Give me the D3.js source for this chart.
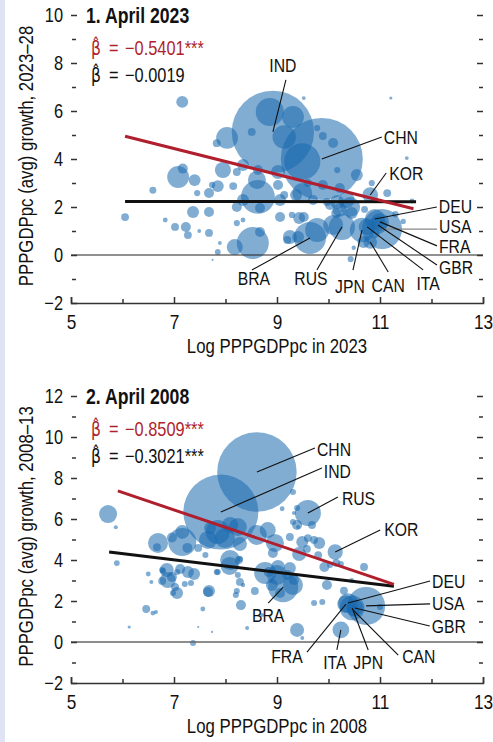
<!DOCTYPE html>
<html><head><meta charset="utf-8">
<script src="https://cdn.jsdelivr.net/npm/d3@7"></script>
<style>
html,body{margin:0;padding:0;background:#fff;}
svg text{font-family:"Liberation Sans",Arial,sans-serif;fill:#111;}
</style></head><body>
<svg id="c" width="493" height="742"></svg>
<script>
// ---------------- DATA ----------------
const xTickValues = [5,7,9,11,13];
const xMinorValues = [6,8,10,12];
const yTicks2023 = [-2,0,2,4,6,8,10];
const yTicks2008 = [-2,0,2,4,6,8,10,12];

// labelled economies, April 2023 (log PPP GDP pc, avg growth 2023-28, population mn)
const codes2023 = ["IND","CHN","KOR","DEU","USA","FRA","GBR","ITA","CAN","JPN","RUS","BRA"];
const x2023 = [8.92,9.87,10.81,10.90,11.04,11.00,10.96,10.75,10.81,10.65,10.26,9.64];
const y2023 = [5.13,4.00,2.50,1.50,1.08,1.38,1.25,1.17,0.54,1.04,1.17,0.71];
const pop2023 = [1420,1410,52,84,335,68,68,59,39,125,144,216];
// other economies [log PPPGDPpc, growth, population]
const others2023 = [
[9.49,3.9,275],[8.86,5.96,165],[9.31,5.75,100],[9.14,4.92,115],[8.03,4.88,100],[7.16,6.38,30],
[8.51,5.13,13],[7.83,4.66,13],[7.17,3.6,21],[7.08,3.25,100],[7.40,3.12,30],[6.59,2.7,10],
[7.45,2.58,8],[7.74,2.92,8],[7.85,2.87,30],[7.68,2.58,21],[8.15,2.87,13],[7.95,3.54,54],
[8.22,3.46,13],[8.34,3.75,30],[8.61,3.13,68],[8.63,3.54,21],[8.63,2.42,240],[8.34,2.29,30],
[8.67,1.96,21],[8.22,2.0,21],[9.06,2.29,30],[9.02,3.46,41],[6.05,1.58,13],[6.83,1.46,5],
[7.02,1.17,13],[7.23,1.17,21],[7.27,0.83,13],[7.37,1.79,30],[7.68,1.79,21],[7.49,1.0,3],
[7.68,0.92,13],[7.89,0.5,3],[7.85,0.13,7],[8.22,1.33,8],[8.34,1.46,5],[8.53,0.5,215],
[8.67,0.96,21],[8.18,0.33,54],[9.06,1.58,21],[9.29,1.67,8],[9.25,0.75,41],[7.75,-0.2,1],
[10.22,2.79,21],[10.55,3.33,30],[10.84,3.0,8],[11.14,2.58,13],[9.49,2.58,84],[9.70,2.29,21],
[10.03,2.08,21],[10.42,2.0,84],[10.22,1.88,41],[9.52,1.58,21],[9.02,2.92,21],[9.14,2.5,13],
[9.37,2.5,30],[9.60,3.0,13],[9.89,2.92,21],[9.97,2.21,13],[10.17,2.21,41],[10.35,2.29,54],
[10.45,1.75,30],[10.15,1.75,21],[9.43,1.54,30],[9.41,0.75,30],[9.20,0.63,13],[9.78,1.04,121],
[10.09,1.25,84],[10.49,0.3,4],[10.43,-0.17,8],[10.68,0.54,30],[11.52,4.04,3],[11.21,6.54,2],
[9.52,6.54,3],[9.78,5.29,8],[9.89,4.96,13],[10.09,4.67,21],[10.17,3.54,8],
[11.62,2.25,5],[10.7,1.9,10],[11.3,1.7,8],[11.45,1.4,6],[10.9,0.9,20]
];
const redFit2023 = [[6.05,4.95],[11.65,1.93]];
const blackFit2023 = [[6.05,2.23],[11.70,2.22]];
const betaRed2023 = "\u22120.5401***";
const betaBlack2023 = "\u22120.0019";

// labelled economies, April 2008 (growth 2008-13)
const codes2008 = ["CHN","IND","RUS","KOR","BRA","DEU","USA","GBR","CAN","JPN","ITA","FRA"];
const x2008 = [8.61,7.91,9.60,10.13,9.12,10.38,10.73,10.51,10.48,10.46,10.24,10.34];
const y2008 = [8.29,6.34,6.29,4.39,2.68,1.90,1.76,1.66,1.56,1.66,0.59,1.85];
const pop2008 = [1325,1180,142,49,191,82,304,61,33,128,59,64];
const others2008 = [
[5.72,6.24,68],[5.87,5.6,3.4],[5.89,3.85,7],[6.13,0.73,2],[6.50,3.32,5],[6.56,2.93,3.4],
[6.46,1.61,13],[6.59,1.41,5],[6.65,1.46,3.4],[6.79,3.46,7.6],[6.88,3.02,54],[6.77,2.98,13],
[7.02,2.68,13],[7.06,2.39,30],[6.98,2.39,7.6],[7.12,3.56,21],[7.39,3.32,30],[7.33,2.88,7.6],
[7.66,2.44,21],[7.56,1.61,5],[7.47,0.73,1],[7.74,0.49,1],[7.37,-0.05,7.6],[7.83,3.41,7.6],
[8.08,3.71,68],[8.26,4.0,13],[8.20,2.29,7.6],[8.3,1.8,21],[8.34,2.78,4],[6.69,4.83,84],
[6.67,4.63,13],[6.96,5.1,21],[7.16,5.37,41],[7.26,4.59,21],[7.16,4.88,165],[7.47,4.59,13],
[7.61,4.24,7.6],[7.66,4.98,68],[7.85,5.37,121],[7.70,5.56,30],[7.99,5.07,84],[8.09,5.71,54],
[8.28,4.78,41],[8.24,5.61,68],[8.09,4.0,84],[8.28,4.05,7.6],[8.61,5.22,84],[8.82,5.46,54],
[8.96,4.83,68],[8.92,4.34,21],[9.31,7.32,7.6],[9.33,6.29,3.4],[9.31,5.85,7.6],[9.41,5.61,3.4],
[9.25,5.12,13],[9.39,6.54,7.6],[6.86,3.51,41],[6.77,3.51,7.6],[6.96,3.17,21],[7.06,3.41,7.6],
[7.27,3.41,30],[7.21,2.83,7.6],[7.68,2.49,30],[7.85,3.41,7.6],[8.22,2.49,7.6],[8.24,3.27,7.6],
[8.28,2.93,13],[8.57,2.49,13],[8.77,3.37,102],[8.90,2.78,30],[9.31,2.78,84],[9.02,3.66,41],
[9.25,3.61,30],[9.82,4.83,30],[9.72,4.98,13],[9.39,5.71,21],[9.68,5.71,13],[9.60,5.07,13],
[9.49,4.88,30],[9.58,4.54,13],[9.43,4.29,41],[9.80,4.24,13],[9.92,3.66,21],[10.15,3.86,13],
[10.03,3.76,7.6],[10.24,3.8,7.6],[9.20,3.27,21],[9.0,3.27,84],[8.84,3.41,21],[9.33,3.02,21],
[9.06,2.39,21],[9.72,1.9,7.6],[9.97,2.78,21],[9.88,1.95,7.6],[9.39,0.59,41],[9.49,0.2,3.4],
[8.71,1.32,3.4],[8.42,0.68,3.4],[10.69,3.66,13],[11.0,1.71,7.6],[9.1,6.5,5],[10.45,3.0,5],[10.3,2.5,13]
];
const redFit2008 = [[5.91,7.37],[11.27,2.81]];
const blackFit2008 = [[5.74,4.39],[11.27,2.72]];
const betaRed2008 = "\u22120.8509***";
const betaBlack2008 = "\u22120.3021***";

// ---------------- LAYOUT (pixel offsets of leader end / label from bubble) ----------------
const layout2023 = {
  IND:{lx:13,ly:-52,tx:10,ty:-60,a:"middle"}, CHN:{lx:60,ly:-22,tx:62,ty:-15,a:"start"},
  KOR:{lx:16,ly:-22,tx:19,ty:-15,a:"start"}, DEU:{lx:62,ly:-12,tx:64,ty:-6,a:"start"},
  USA:{lx:55,ly:0,tx:57,ty:4,a:"start",c:"#888"}, FRA:{lx:57,ly:24,tx:59,ty:31.5,a:"start"},
  GBR:{lx:59,ly:40,tx:61,ty:49,a:"start"}, ITA:{lx:56,ly:43,tx:61,ty:63,a:"middle"},
  CAN:{lx:18,ly:30,tx:18,ty:50,a:"middle"}, JPN:{lx:-9,ly:40,tx:-12,ty:63,a:"middle"},
  RUS:{lx:-25,ly:43,tx:-31,ty:58,a:"middle"}, BRA:{lx:-58,ly:32,tx:-56,ty:47,a:"middle"}
};
const layout2008 = {
  CHN:{lx:58,ly:-24,tx:60,ty:-16,a:"start"}, IND:{lx:101,ly:-44,tx:103,ty:-34,a:"start"},
  RUS:{lx:30,ly:-16,tx:34,ty:-8,a:"start"}, KOR:{lx:45,ly:-22,tx:49,ty:-16,a:"start"},
  BRA:{lx:-15,ly:16,tx:-15,ty:35,a:"middle"}, DEU:{lx:82,ly:-22,tx:84,ty:-15,a:"start"},
  USA:{lx:64,ly:-2,tx:66,ty:4,a:"start"}, GBR:{lx:75,ly:18,tx:77,ty:25,a:"start"},
  CAN:{lx:45,ly:45,tx:49,ty:53,a:"start"}, JPN:{lx:16,ly:42,tx:16,ty:61,a:"middle"},
  ITA:{lx:-4,ly:20,tx:-6,ty:39,a:"middle"}, FRA:{lx:-39,ly:48,tx:-59,ty:59,a:"middle"}
};

const RED = "#b01f2d", BUB = "#1a6aae", NARROW = 0.82;
const svg = d3.select("#c");
svg.append("rect").attr("x",0).attr("y",0).attr("width",5).attr("height",742).attr("fill","#dfe3f3");

const fmt = v => v < 0 ? "\u2212" + Math.abs(v) : String(v);

// horizontally condense text about its own x (Arial Narrow look)
function narrow(sel){
  sel.each(function(){
    const t = d3.select(this);
    const x = +t.attr("x") || 0;
    const prev = t.attr("transform") || "";
    t.attr("transform", `${prev} translate(${x},0) scale(${NARROW},1) translate(${-x},0)`);
  });
}

function drawPanel(cfg){
  const g = svg.append("g");
  const x = d3.scaleLinear().domain([5,13]).range([71,483]);
  const y = d3.scaleLinear().domain(cfg.yDomain).range([cfg.bottom, cfg.top]);
  const r = d3.scaleSqrt().domain([0,1410]).range([0,41]);

  const pts = cfg.others.map(d => ({x:d[0], y:d[1], pop:d[2]}))
    .concat(cfg.codes.map((c,i) => ({code:c, x:cfg.xs[i], y:cfg.ys[i], pop:cfg.pops[i]})))
    .sort((a,b) => b.pop - a.pop);

  g.append("g").selectAll("circle").data(pts).join("circle")
    .attr("cx", d => x(d.x)).attr("cy", d => y(d.y)).attr("r", d => r(d.pop))
    .attr("fill", BUB).attr("fill-opacity", 0.55);

  g.append("line").attr("x1", x(5)).attr("x2", x(13)).attr("y1", y(0)).attr("y2", y(0))
    .attr("stroke", cfg.zeroColor).attr("stroke-width", cfg.zeroWidth);

  const line = d3.line().x(d => x(d[0])).y(d => y(d[1]));
  g.append("path").attr("d", line(cfg.blackFit)).attr("stroke", "#111").attr("stroke-width", 3).attr("fill","none");
  g.append("path").attr("d", line(cfg.redFit)).attr("stroke", RED).attr("stroke-width", 3).attr("fill","none");

  const yMajor = cfg.yTicks, yMinor = d3.range(cfg.yDomain[0]+1, cfg.yDomain[1], 2);
  const styleAxis = sel => { sel.selectAll(".tick line").attr("stroke","#333").attr("stroke-width",1.5); sel.select(".domain").remove(); };
  const la = g.append("g").attr("transform", `translate(71,0)`)
    .call(d3.axisLeft(y).tickValues(yMajor).tickSize(-6).tickPadding(8).tickFormat(fmt));
  styleAxis(la);
  la.selectAll("text").attr("font-size", 20).attr("fill","#111");
  const la2 = g.append("g").attr("transform", `translate(72,0)`)
    .call(d3.axisLeft(y).tickValues(yMinor).tickSize(-4).tickFormat(""));
  styleAxis(la2);
  const ra = g.append("g").attr("transform", `translate(483,0)`)
    .call(d3.axisRight(y).tickValues(yMajor.filter(v => v > cfg.yDomain[0])).tickSize(-6).tickFormat(""));
  styleAxis(ra);
  const ra2 = g.append("g").attr("transform", `translate(483,0)`)
    .call(d3.axisRight(y).tickValues(yMinor).tickSize(-4).tickFormat(""));
  styleAxis(ra2);

  const ba = g.append("g").attr("transform", `translate(0,${cfg.bottom})`)
    .call(d3.axisBottom(x).tickValues(xTickValues).tickSize(-6).tickSizeOuter(-6).tickPadding(11).tickFormat(d3.format("d")));
  ba.selectAll(".tick line").attr("stroke","#333").attr("stroke-width",1.5);
  ba.select(".domain").attr("stroke","#333").attr("stroke-width",1.5);
  ba.selectAll("text").attr("font-size", 21).attr("fill","#111");
  const ba2 = g.append("g").attr("transform", `translate(0,${cfg.bottom})`)
    .call(d3.axisBottom(x).tickValues(xMinorValues).tickSize(-4).tickFormat(""));
  styleAxis(ba2);
  g.selectAll("g").attr("font-family", null);

  g.append("text").attr("x", 86).attr("y", cfg.top + 8).attr("font-size", 21.5).attr("font-weight","bold").text(cfg.title);
  // beta annotations as one text: beta-hat (DejaVu places the combining hat well), "=", value
  const X0 = 91, pre = px => X0 + (px - X0) / NARROW;
  [[cfg.betaRed, RED, 40],[cfg.betaBlack, "#111", 67]].forEach(([val, col, dy]) => {
    const t = g.append("text").attr("x", X0).attr("y", cfg.top + dy).attr("font-size", 20).style("fill", col);
    t.append("tspan").style("font-family", "'DejaVu Sans'").attr("font-size", 19).text("\u03B2\u0302");
    t.append("tspan").attr("x", pre(109)).text("=");
    t.append("tspan").attr("x", pre(125)).text(val);
  });
  g.append("text").attr("x", 277).attr("y", cfg.bottom + 50).attr("text-anchor","middle").attr("font-size", 20.5).text(cfg.xTitle);
  g.append("text").attr("transform", `translate(33,${(cfg.top+cfg.bottom)/2 - 3}) rotate(-90)`)
    .attr("text-anchor","middle").attr("font-size", 20.5).text(cfg.yTitle);

  const lab = pts.filter(d => d.code);
  g.append("g").selectAll("line").data(lab).join("line")
    .attr("x1", d => x(d.x)).attr("y1", d => y(d.y))
    .attr("x2", d => x(d.x) + cfg.layout[d.code].lx).attr("y2", d => y(d.y) + cfg.layout[d.code].ly)
    .attr("stroke", d => cfg.layout[d.code].c || "#111").attr("stroke-width", 1.1);
  g.append("g").selectAll("text").data(lab).join("text")
    .attr("x", d => x(d.x) + cfg.layout[d.code].tx).attr("y", d => y(d.y) + cfg.layout[d.code].ty)
    .attr("text-anchor", d => cfg.layout[d.code].a).attr("font-size", 19.2).text(d => d.code);
}

drawPanel({title:"1. April 2023", xTitle:"Log PPPGDPpc in 2023", yTitle:"PPPGDPpc (avg) growth, 2023\u201328",
  yDomain:[-2,10], top:15, bottom:303, yTicks:yTicks2023, codes:codes2023, xs:x2023, ys:y2023, pops:pop2023,
  others:others2023, redFit:redFit2023, blackFit:blackFit2023, betaRed:betaRed2023, betaBlack:betaBlack2023,
  layout:layout2023, zeroColor:"#222", zeroWidth:1.1});
drawPanel({title:"2. April 2008", xTitle:"Log PPPGDPpc in 2008", yTitle:"PPPGDPpc (avg) growth, 2008\u201313",
  yDomain:[-2,12], top:396, bottom:683, yTicks:yTicks2008, codes:codes2008, xs:x2008, ys:y2008, pops:pop2008,
  others:others2008, redFit:redFit2008, blackFit:blackFit2008, betaRed:betaRed2008, betaBlack:betaBlack2008,
  layout:layout2008, zeroColor:"#666", zeroWidth:1.6});

svg.selectAll("text").call(narrow);
</script>
</body></html>
